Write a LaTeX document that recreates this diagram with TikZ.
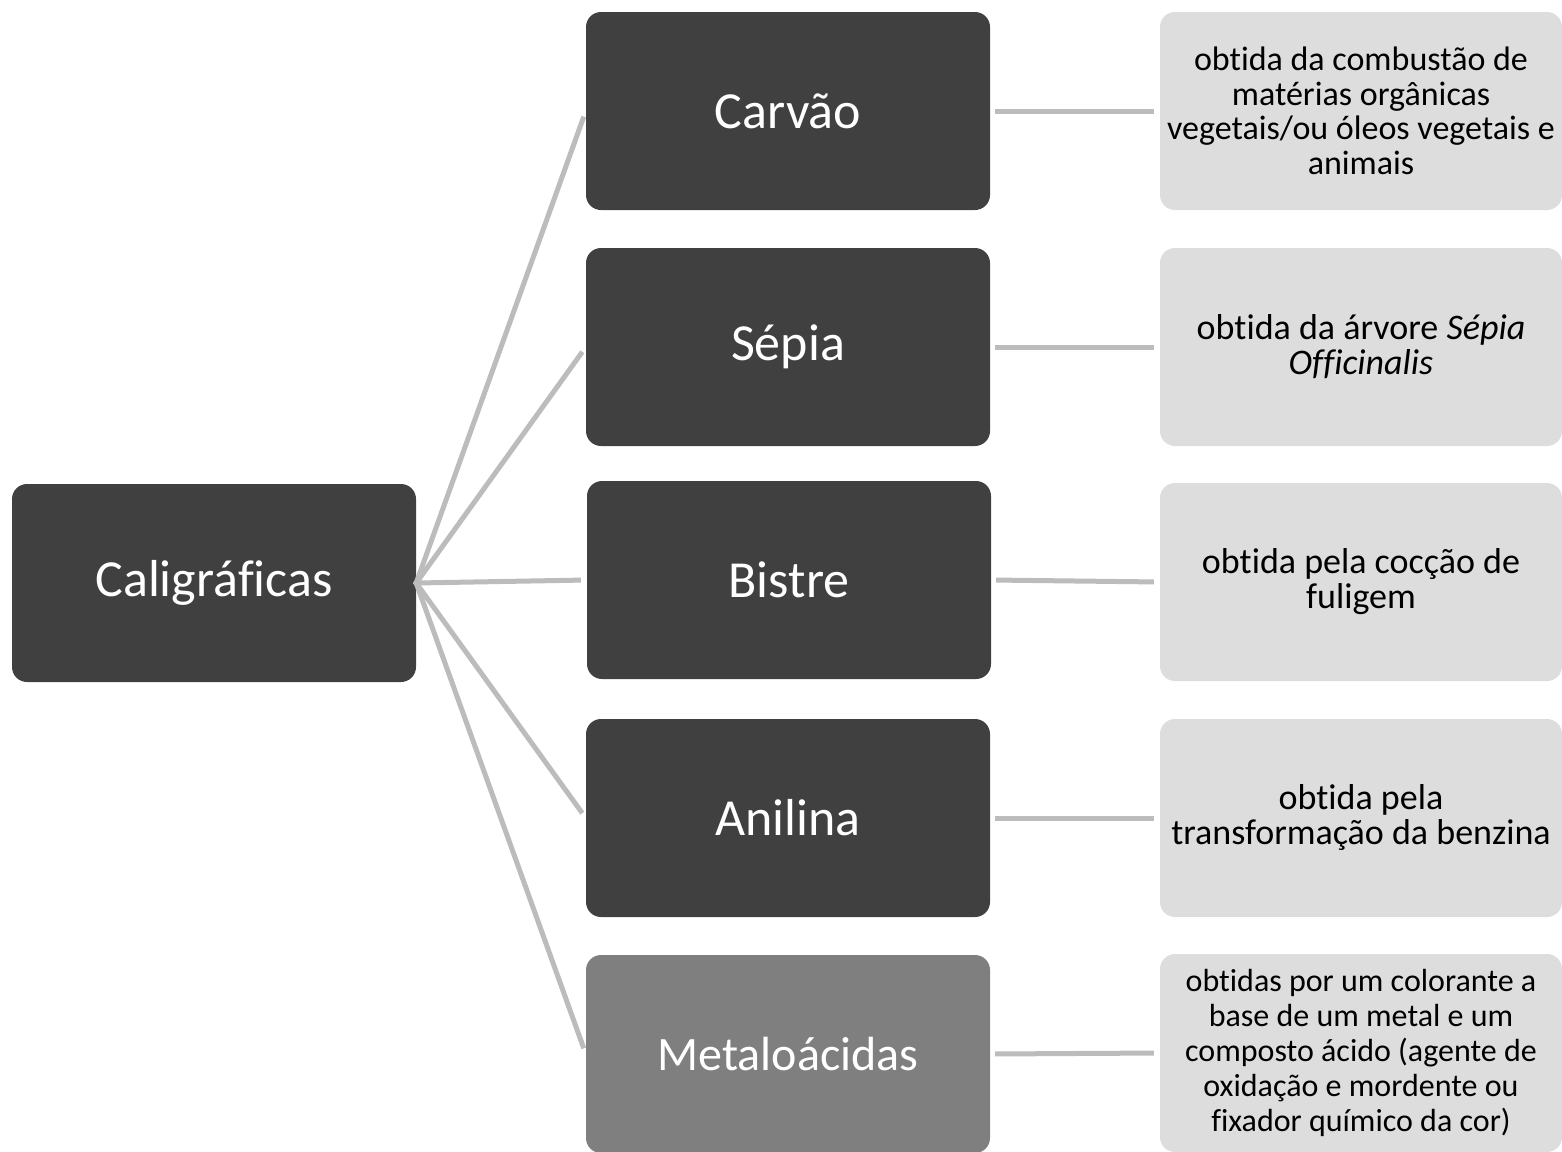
\documentclass[tikz,border=0pt]{standalone}
\usepackage{fontspec}
\setmainfont{Carlito}[Ligatures=NoCommon]
\definecolor{darkfill}{HTML}{404040}
\definecolor{midfill}{HTML}{7F7F7F}
\definecolor{lightfill}{HTML}{DDDDDD}
\definecolor{linkgray}{HTML}{BCBCBC}
\tikzset{
  catbox/.style={rectangle, rounded corners=15pt, fill=darkfill, text=white,
    minimum width=404pt, minimum height=198pt, inner sep=0pt,
    font=\fontsize{52}{62}\selectfont},
  inkbox/.style={catbox},
  notebox/.style={rectangle, rounded corners=15pt, fill=lightfill, text=black,
    minimum width=402pt, minimum height=198pt, inner sep=0pt, align=center,
    font=\fontsize{36}{35}\selectfont},
  link/.style={draw=linkgray, line width=5pt}
}
\begin{document}
\begin{tikzpicture}[x=1pt,y=-1pt]
\useasboundingbox (0,0) rectangle (1562,1151);
% main category
\node[catbox] (cal) at (214,583) {Caligráficas};
% ink types
\node[inkbox] (carvao) at (788,111) {Carvão};
\node[inkbox] (sepia) at (788,347) {Sépia};
\node[inkbox] (bistre) at (789,580) {Bistre};
\node[inkbox] (anilina) at (788,818) {Anilina};
\node[inkbox, fill=midfill, font=\fontsize{48}{58}\selectfont] (metalo) at (788,1054) {Metaloácidas};
% descriptions
\node[notebox, font=\fontsize{34}{34.5}\selectfont] (carvaonote) at (1361,111) {obtida da combustão de\\matérias orgânicas\\vegetais/ou óleos vegetais e\\animais};
\node[notebox] (sepianote) at (1361,347) {obtida da árvore \textit{Sépia}\\\textit{Officinalis}};
\node[notebox] (bistrenote) at (1361,582) {obtida pela cocção de\\fuligem};
\node[notebox] (anilinanote) at (1361,818) {obtida pela\\transformação da benzina};
\node[notebox, font=\fontsize{32}{35}\selectfont] (metalonote) at (1361,1053) {obtidas por um colorante a\\base de um metal e um\\composto ácido (agente de\\oxidação e mordente ou\\fixador químico da cor)};
% links
\draw[link, shorten <=-2pt, shorten >=6pt] (cal.east) -- (carvao.west);
\draw[link, shorten <=-2pt, shorten >=6pt] (cal.east) -- (sepia.west);
\draw[link, shorten <=-2pt, shorten >=6pt] (cal.east) -- (bistre.west);
\draw[link, shorten <=-2pt, shorten >=6pt] (cal.east) -- (anilina.west);
\draw[link, shorten <=-2pt, shorten >=6pt] (cal.east) -- (metalo.west);
\draw[link, shorten <=5pt, shorten >=6pt] (carvao.east) -- (carvaonote.west);
\draw[link, shorten <=5pt, shorten >=6pt] (sepia.east) -- (sepianote.west);
\draw[link, shorten <=5pt, shorten >=6pt] (bistre.east) -- (bistrenote.west);
\draw[link, shorten <=5pt, shorten >=6pt] (anilina.east) -- (anilinanote.west);
\draw[link, shorten <=5pt, shorten >=6pt] (metalo.east) -- (metalonote.west);
\end{tikzpicture}
\end{document}
